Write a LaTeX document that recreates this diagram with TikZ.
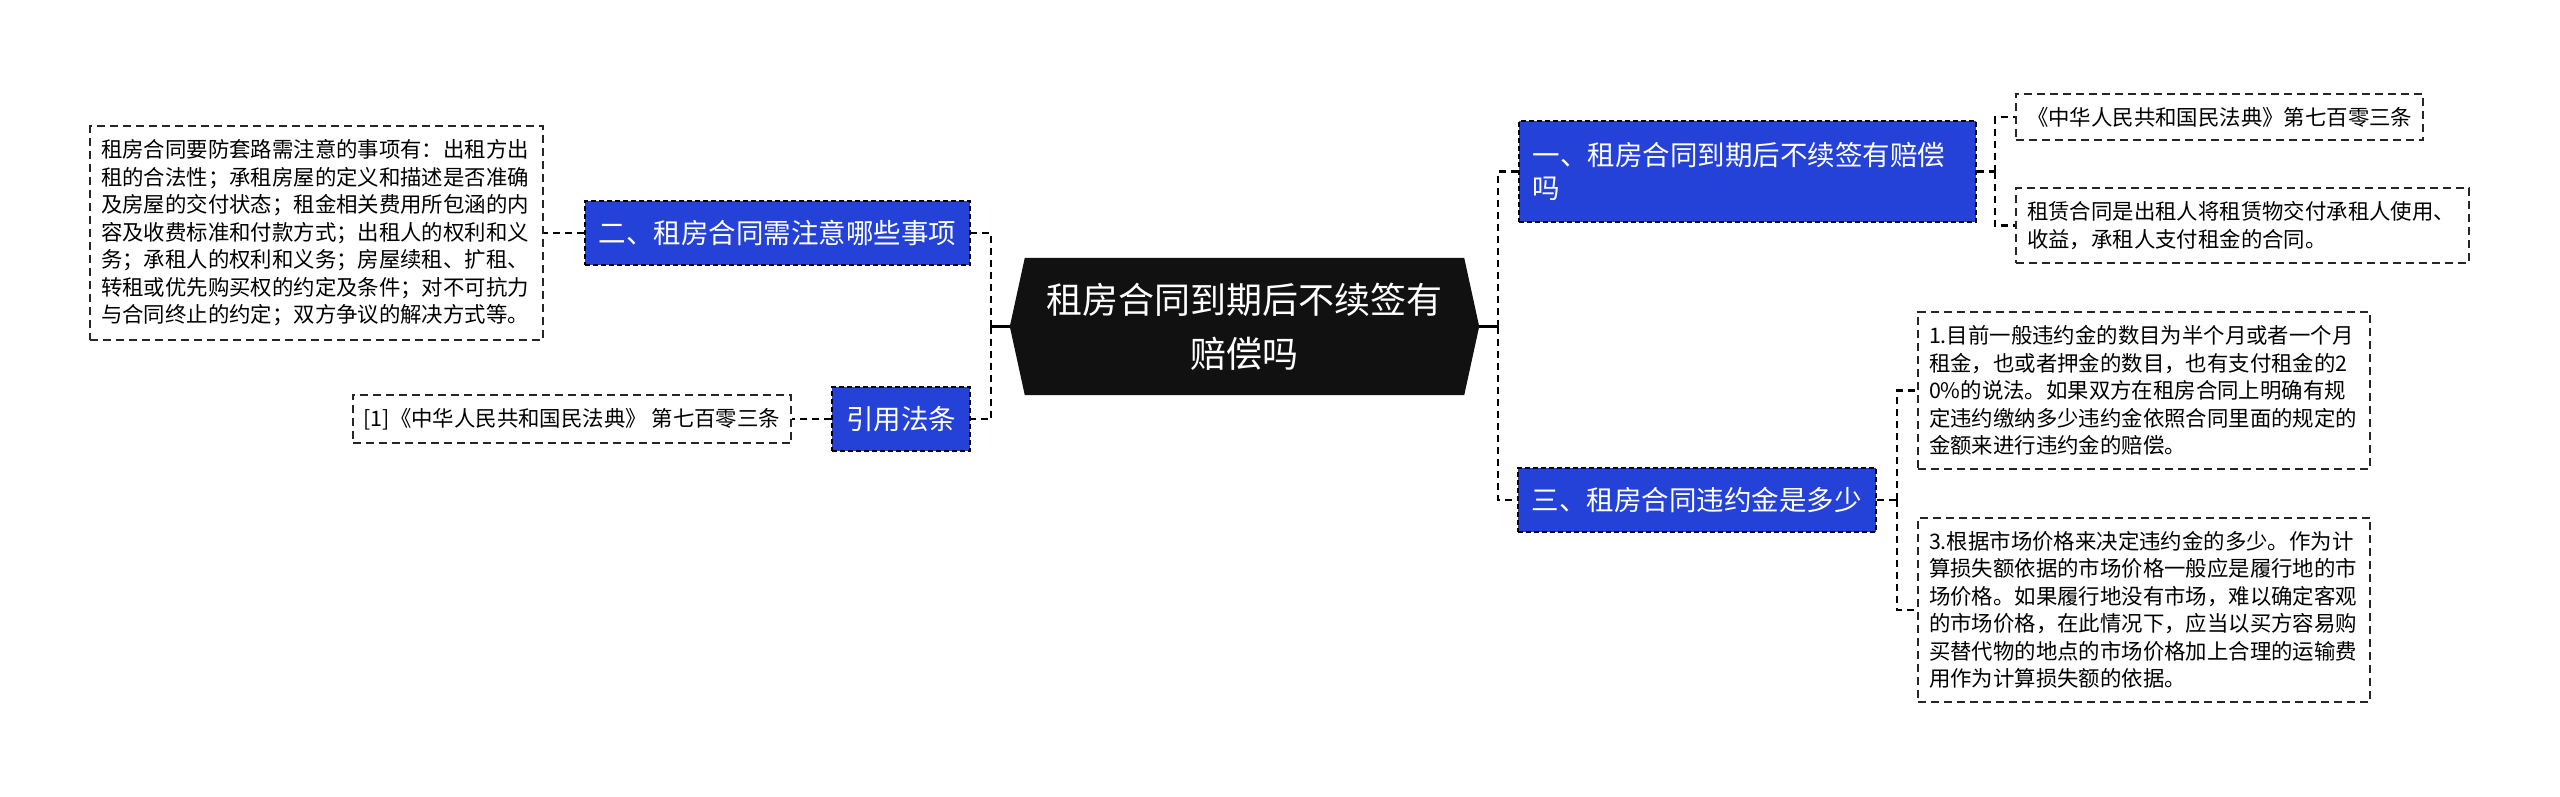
\documentclass[tikz,border=0pt]{standalone}
\usepackage{fontspec}
\setmainfont{Noto Sans CJK SC}
\usetikzlibrary{backgrounds}
\definecolor{topicblue}{HTML}{2441D8}
\definecolor{rootblack}{HTML}{111111}

\begin{document}
\begin{tikzpicture}[x=1pt, y=-1pt,
  root/.style={inner sep=0pt, minimum width=469pt, minimum height=137pt, align=center, text=white, font=\fontsize{36}{54}\selectfont},
  topic/.style={fill=topicblue, draw=black, line width=1.6pt, dash pattern=on 5pt off 3pt, text=white, inner xsep=14pt, inner ysep=18pt, minimum height=64pt, align=left, font=\fontsize{27.5}{33}\selectfont},
  leaf/.style={draw=black!85, line width=2pt, dash pattern=on 8pt off 5pt, inner xsep=11pt, inner ysep=13.5pt, align=left, font=\fontsize{21.4}{27.5}\selectfont},
  stem/.style={line width=2.5pt, black},
  link/.style={line width=2.2pt, black, dash pattern=on 7pt off 5pt}
]
\useasboundingbox (0,0) rectangle (2560,796);

\node[root] (root) at (1244.5,326.5) {租房合同到期后不续签有\\赔偿吗};
\begin{scope}[on background layer]
\fill[rootblack] (root.west) -- ([xshift=15pt]root.north west) -- ([xshift=-15pt]root.north east) -- (root.east) -- ([xshift=-15pt]root.south east) -- ([xshift=15pt]root.south west) -- cycle;
\end{scope}

% left branches
\node[topic, anchor=east] (care) at (971,233) {二、租房合同需注意哪些事项};
\node[topic, anchor=east] (law) at (971,419) {引用法条};
\node[leaf, anchor=east, text width=431pt] (caretext) at (544,233) {租房合同要防套路需注意的事项有：出租方出\\租的合法性；承租房屋的定义和描述是否准确\\及房屋的交付状态；租金相关费用所包涵的内\\容及收费标准和付款方式；出租人的权利和义\\务；承租人的权利和义务；房屋续租、扩租、\\转租或优先购买权的约定及条件；对不可抗力\\与合同终止的约定；双方争议的解决方式等。};
\node[leaf, anchor=east] (lawref) at (792,419) {[1]《中华人民共和国民法典》 第七百零三条};

% right branches
\node[topic, anchor=west, text width=429pt, minimum height=101pt] (renew) at (1518,171.5) {一、租房合同到期后不续签有赔偿\\吗};
\node[topic, anchor=west] (penalty) at (1517,500) {三、租房合同违约金是多少};
\node[leaf, anchor=west] (civil) at (2015,117) {《中华人民共和国民法典》第七百零三条};
\node[leaf, anchor=west, text width=431pt] (lease) at (2015,225.5) {租赁合同是出租人将租赁物交付承租人使用、\\收益，承租人支付租金的合同。};
\node[leaf, anchor=west, text width=430pt] (rule1) at (1917,390.5) {1.目前一般违约金的数目为半个月或者一个月\\租金，也或者押金的数目，也有支付租金的2\\0\%的说法。如果双方在租房合同上明确有规\\定违约缴纳多少违约金依照合同里面的规定的\\金额来进行违约金的赔偿。};
\node[leaf, anchor=west, text width=430pt] (rule3) at (1917,610) {3.根据市场价格来决定违约金的多少。作为计\\算损失额依据的市场价格一般应是履行地的市\\场价格。如果履行地没有市场，难以确定客观\\的市场价格，在此情况下，应当以买方容易购\\买替代物的地点的市场价格加上合理的运输费\\用作为计算损失额的依据。};

% junctions
\coordinate (jl) at (991,326.5);
\coordinate (jr) at (1498,326.5);
\coordinate (jrenew) at (1995,171.5);
\coordinate (jpen) at (1897,500);

\draw[stem] (root.west) -- (jl);
\draw[link] (jl) |- (care.east);
\draw[link] (jl) |- (law.east);
\draw[link] (care.west) -- (caretext.east);
\draw[link] (law.west) -- (lawref.east);

\draw[stem] (root.east) -- (jr);
\draw[link] (jr) |- (renew.west);
\draw[link] (jr) |- (penalty.west);
\draw[link] (renew.east) -- (jrenew);
\draw[link] (jrenew) |- (civil.west);
\draw[link] (jrenew) |- (lease.west);
\draw[link] (penalty.east) -- (jpen);
\draw[link] (jpen) |- (rule1.west);
\draw[link] (jpen) |- (rule3.west);
\end{tikzpicture}
\end{document}
